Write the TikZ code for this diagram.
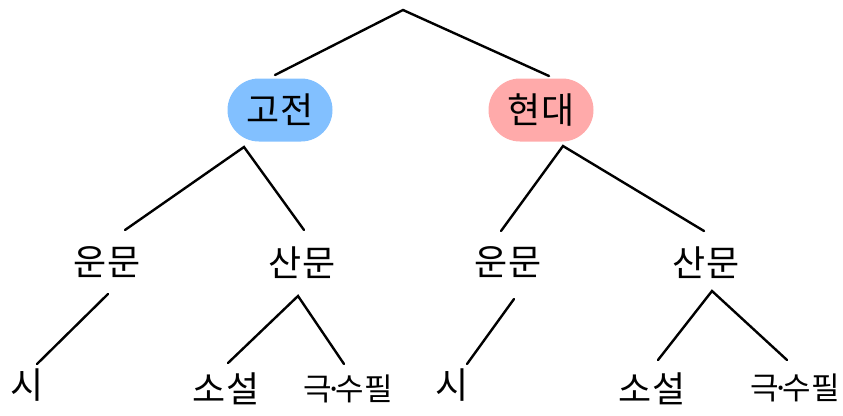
\documentclass[tikz,border=0pt]{standalone}
\usepackage{fontspec}
\newfontfamily\krfont{Noto Sans CJK KR}
\definecolor{pillblue}{HTML}{82C0FF}
\definecolor{pillpink}{HTML}{FFAAAA}
\newcommand{\gdot}{\kern-0.22em·\kern-0.22em}
\begin{document}
\begin{tikzpicture}[x=1pt,y=-1pt,
  lbl/.style={font=\krfont\fontsize{36}{40}\selectfont, inner sep=0pt},
  smlbl/.style={font=\krfont\fontsize{31}{35}\selectfont, inner sep=0pt},
  pill/.style={lbl, minimum width=105pt, minimum height=63pt, rounded corners=31.5pt},
  edge/.style={line width=2.4pt, line cap=round}]
\useasboundingbox (0,0) rectangle (843,415);
% nodes
\node[pill, fill=pillblue] (gojeon) at (280,110) {고전};
\node[pill, fill=pillpink] (hyeondae) at (541,110) {현대};
\node[lbl] (unmunL) at (107,262) {운문};
\node[lbl] (sanmunL) at (302,263) {산문};
\node[lbl] (unmunR) at (508,262) {운문};
\node[lbl] (sanmunR) at (706,263) {산문};
\node[lbl] (siL) at (27,385) {시};
\node[lbl] (soseolL) at (226,389) {소설};
\node[smlbl] (geukL) at (348,389) {극\gdot 수필};
\node[lbl] (siR) at (452,385) {시};
\node[lbl] (soseolR) at (652,389) {소설};
\node[smlbl] (geukR) at (795,388) {극\gdot 수필};
% connector end points
\coordinate (root) at (403,10);
\coordinate (gojeonTop) at (275,75);
\coordinate (hyeondaeTop) at (549,76);
\coordinate (gojeonBot) at (244,147);
\coordinate (hyeondaeBot) at (563,146);
\coordinate (unmunLTop) at (125,230);
\coordinate (sanmunLTop) at (304,230);
\coordinate (unmunRTop) at (501,231);
\coordinate (sanmunRTop) at (704,231);
\coordinate (unmunLBot) at (108,294);
\coordinate (sanmunLBot) at (298,296);
\coordinate (unmunRBot) at (514,299);
\coordinate (sanmunRBot) at (712,291);
\coordinate (siLTop) at (37,364);
\coordinate (soseolLTop) at (228,363);
\coordinate (geukLTop) at (344,364);
\coordinate (siRTop) at (467,364);
\coordinate (soseolRTop) at (658,360);
\coordinate (geukRTop) at (787,360);
% connectors
\draw[edge] (gojeonTop) -- (root) -- (hyeondaeTop);
\draw[edge] (unmunLTop) -- (gojeonBot) -- (sanmunLTop);
\draw[edge] (unmunRTop) -- (hyeondaeBot) -- (sanmunRTop);
\draw[edge] (unmunLBot) -- (siLTop);
\draw[edge] (soseolLTop) -- (sanmunLBot) -- (geukLTop);
\draw[edge] (unmunRBot) -- (siRTop);
\draw[edge] (soseolRTop) -- (sanmunRBot) -- (geukRTop);
\end{tikzpicture}
\end{document}
